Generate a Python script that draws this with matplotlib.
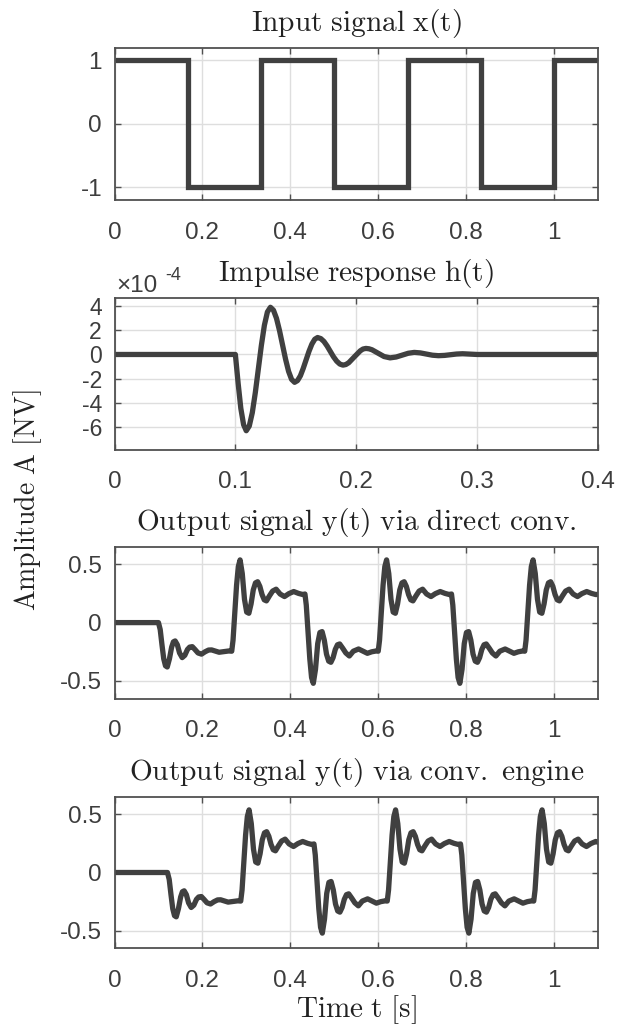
import matplotlib
matplotlib.use('Agg')
import matplotlib.pyplot as plt
from matplotlib.ticker import FuncFormatter

plt.rcParams['axes.unicode_minus'] = False
plt.rcParams['mathtext.fontset'] = 'cm'
plt.rcParams['font.family'] = ['Liberation Sans', 'DejaVu Sans']

# ---------------- data ----------------
# Input square wave x(t): level on each interval between edges
x_edges = [0.0, 0.1667, 0.3333, 0.5, 0.6667, 0.8333, 1.0, 1.1]
x_levels = [1, -1, 1, -1, 1, -1, 1]

# Impulse response h(t), values in units of 1e-4
h_t = [0, 0.1, 0.1023, 0.1045, 0.1068, 0.109, 0.1115, 0.114, 0.1165, 0.119,
       0.1215, 0.124, 0.1265, 0.129, 0.1315, 0.134, 0.1365, 0.139, 0.1415, 0.144,
       0.1465, 0.149, 0.1514, 0.1538, 0.1561, 0.1585, 0.1609, 0.1633, 0.1657, 0.168,
       0.1707, 0.1733, 0.1759, 0.1785, 0.1811, 0.1838, 0.1864, 0.189, 0.1914, 0.1938,
       0.1985, 0.2033, 0.2056, 0.208, 0.2105, 0.213, 0.218, 0.223, 0.228, 0.233,
       0.238, 0.243, 0.248, 0.253, 0.258, 0.263, 0.268, 0.273, 0.278, 0.283,
       0.288, 0.294, 0.3, 0.4]
h_v = [0, 0, -2.4, -4.45, -5.8, -6.3, -5.91, -4.81, -3.15, -1.2,
       0.75, 2.41, 3.51, 3.9, 3.66, 2.99, 1.98, 0.8, -0.38, -1.39,
       -2.06, -2.3, -2.16, -1.76, -1.16, -0.45, 0.26, 0.86, 1.26, 1.4,
       1.31, 1.07, 0.70, 0.26, -0.18, -0.55, -0.79, -0.88, -0.83, -0.68,
       -0.19, 0.30, 0.45, 0.5, 0.47, 0.39, 0.11, -0.17, -0.28, -0.21,
       -0.055, 0.10, 0.17, 0.13, 0.035, -0.06, -0.1, -0.077, -0.02, 0.037,
       0.06, 0.03, 0, 0]

# Output via direct convolution y(t)
yd_t = [0.0,
        0.1, 0.104, 0.108, 0.112, 0.116, 0.12, 0.125, 0.13, 0.134, 0.138, 0.143, 0.148, 0.154,
        0.16, 0.166, 0.171, 0.177, 0.183, 0.19, 0.198, 0.206, 0.214, 0.221, 0.23, 0.238, 0.25, 0.26,
        0.2667, 0.2697, 0.2737, 0.2777, 0.2817, 0.2857, 0.2907, 0.2957, 0.3007, 0.3057, 0.3107,
        0.3157, 0.3207, 0.3257, 0.3307, 0.3357, 0.3407, 0.3457, 0.3527, 0.3597, 0.3677, 0.3767,
        0.3867, 0.3967, 0.4077, 0.4187, 0.4287,
        0.4333, 0.4363, 0.4403, 0.4443, 0.4483, 0.4523, 0.4573, 0.4623, 0.4673, 0.4723, 0.4773,
        0.4823, 0.4873, 0.4923, 0.4973, 0.5023, 0.5073, 0.5123, 0.5193, 0.5263, 0.5343, 0.5433,
        0.5553, 0.5653, 0.5753, 0.5853, 0.5953,
        0.6, 0.603, 0.607, 0.611, 0.615, 0.619, 0.624, 0.629, 0.634, 0.639, 0.644, 0.649, 0.654,
        0.659, 0.664, 0.669, 0.674, 0.679, 0.686, 0.693, 0.701, 0.71, 0.72, 0.73, 0.741, 0.752, 0.762,
        0.7667, 0.7697, 0.7737, 0.7777, 0.7817, 0.7857, 0.7907, 0.7957, 0.8007, 0.8057, 0.8107,
        0.8157, 0.8207, 0.8257, 0.8307, 0.8357, 0.8407, 0.8457, 0.8527, 0.8597, 0.8677, 0.8767,
        0.8887, 0.8987, 0.9087, 0.9187, 0.9287,
        0.9333, 0.9363, 0.9403, 0.9443, 0.9483, 0.9523, 0.9573, 0.9623, 0.9673, 0.9723, 0.9773,
        0.9823, 0.9873, 0.9923, 0.9973, 1.0023, 1.0073, 1.0123, 1.0193, 1.0263, 1.0343, 1.0433,
        1.0533, 1.0633, 1.0743, 1.0853, 1.0953, 1.1]
yd_v = [0.0,
        0, -0.06, -0.19, -0.31, -0.37, -0.38, -0.31, -0.21, -0.165, -0.157, -0.19, -0.26, -0.30,
        -0.28, -0.23, -0.21, -0.206, -0.23, -0.26, -0.27, -0.25, -0.235, -0.234, -0.245, -0.254, -0.248, -0.243,
        -0.245, -0.15, 0.08, 0.32, 0.48, 0.537, 0.42, 0.20, 0.09, 0.08, 0.16,
        0.28, 0.34, 0.35, 0.31, 0.24, 0.195, 0.186, 0.23, 0.27, 0.286, 0.245,
        0.223, 0.248, 0.266, 0.25, 0.24,
        0.245, 0.15, -0.08, -0.31, -0.47, -0.52, -0.40, -0.18, -0.085, -0.077, -0.15,
        -0.27, -0.33, -0.34, -0.30, -0.23, -0.19, -0.183, -0.22, -0.26, -0.286, -0.245,
        -0.226, -0.245, -0.263, -0.25, -0.243,
        -0.245, -0.15, 0.08, 0.32, 0.48, 0.537, 0.42, 0.20, 0.09, 0.08, 0.16, 0.28, 0.34,
        0.35, 0.31, 0.24, 0.195, 0.186, 0.23, 0.27, 0.286, 0.245, 0.223, 0.248, 0.266, 0.25, 0.24,
        0.245, 0.15, -0.08, -0.31, -0.47, -0.52, -0.40, -0.18, -0.085, -0.077, -0.15,
        -0.27, -0.33, -0.34, -0.30, -0.23, -0.19, -0.183, -0.22, -0.26, -0.286, -0.245,
        -0.226, -0.245, -0.263, -0.25, -0.243,
        -0.245, -0.15, 0.08, 0.32, 0.48, 0.537, 0.42, 0.20, 0.09, 0.08, 0.16,
        0.28, 0.34, 0.35, 0.31, 0.24, 0.195, 0.186, 0.23, 0.27, 0.286, 0.245,
        0.223, 0.248, 0.266, 0.25, 0.24, 0.242]

# Output via convolution engine y(t)
ye_t = [0.0,
        0.1205, 0.1245, 0.1285, 0.1325, 0.1365, 0.1405, 0.1455, 0.1505, 0.1545, 0.1585, 0.1635,
        0.1685, 0.1745, 0.1805, 0.1865, 0.1915, 0.1975, 0.2035, 0.2105, 0.2185, 0.2265, 0.2345,
        0.2415, 0.2505, 0.2585, 0.2705, 0.2805,
        0.2872, 0.2902, 0.2942, 0.2982, 0.3022, 0.3062, 0.3112, 0.3162, 0.3212, 0.3262, 0.3312,
        0.3362, 0.3412, 0.3462, 0.3512, 0.3562, 0.3612, 0.3662, 0.3732, 0.3802, 0.3882, 0.3972,
        0.4072, 0.4172, 0.4282, 0.4392, 0.4492,
        0.4538, 0.4568, 0.4608, 0.4648, 0.4688, 0.4728, 0.4778, 0.4828, 0.4878, 0.4928, 0.4978,
        0.5028, 0.5078, 0.5128, 0.5178, 0.5228, 0.5278, 0.5328, 0.5398, 0.5468, 0.5548, 0.5638,
        0.5758, 0.5858, 0.5958, 0.6058, 0.6158,
        0.6205, 0.6235, 0.6275, 0.6315, 0.6355, 0.6395, 0.6445, 0.6495, 0.6545, 0.6595, 0.6645,
        0.6695, 0.6745, 0.6795, 0.6845, 0.6895, 0.6945, 0.6995, 0.7065, 0.7135, 0.7215, 0.7305,
        0.7405, 0.7505, 0.7615, 0.7725, 0.7825,
        0.7872, 0.7902, 0.7942, 0.7982, 0.8022, 0.8062, 0.8112, 0.8162, 0.8212, 0.8262, 0.8312,
        0.8362, 0.8412, 0.8462, 0.8512, 0.8562, 0.8612, 0.8662, 0.8732, 0.8802, 0.8882, 0.8972,
        0.9092, 0.9192, 0.9292, 0.9392, 0.9492,
        0.9538, 0.9568, 0.9608, 0.9648, 0.9688, 0.9728, 0.9778, 0.9828, 0.9878, 0.9928, 0.9978,
        1.0028, 1.0078, 1.0128, 1.0178, 1.0228, 1.0278, 1.0328, 1.0398, 1.0468, 1.0548, 1.0638,
        1.0738, 1.0838, 1.0948, 1.1]
ye_v = [0.0,
        0, -0.06, -0.19, -0.31, -0.37, -0.38, -0.31, -0.21, -0.165, -0.157, -0.19,
        -0.26, -0.30, -0.28, -0.23, -0.21, -0.206, -0.23, -0.26, -0.27, -0.25, -0.235,
        -0.234, -0.245, -0.254, -0.248, -0.243,
        -0.245, -0.15, 0.08, 0.32, 0.48, 0.537, 0.42, 0.20, 0.09, 0.08, 0.16,
        0.28, 0.34, 0.35, 0.31, 0.24, 0.195, 0.186, 0.23, 0.27, 0.286, 0.245,
        0.223, 0.248, 0.266, 0.25, 0.24,
        0.245, 0.15, -0.08, -0.31, -0.47, -0.52, -0.40, -0.18, -0.085, -0.077, -0.15,
        -0.27, -0.33, -0.34, -0.30, -0.23, -0.19, -0.183, -0.22, -0.26, -0.286, -0.245,
        -0.226, -0.245, -0.263, -0.25, -0.243,
        -0.245, -0.15, 0.08, 0.32, 0.48, 0.537, 0.42, 0.20, 0.09, 0.08, 0.16,
        0.28, 0.34, 0.35, 0.31, 0.24, 0.195, 0.186, 0.23, 0.27, 0.286, 0.245,
        0.223, 0.248, 0.266, 0.25, 0.24,
        0.245, 0.15, -0.08, -0.31, -0.47, -0.52, -0.40, -0.18, -0.085, -0.077, -0.15,
        -0.27, -0.33, -0.34, -0.30, -0.23, -0.19, -0.183, -0.22, -0.26, -0.286, -0.245,
        -0.226, -0.245, -0.263, -0.25, -0.243,
        -0.245, -0.15, 0.08, 0.32, 0.48, 0.537, 0.42, 0.20, 0.09, 0.08, 0.16,
        0.28, 0.34, 0.35, 0.31, 0.24, 0.195, 0.186, 0.23, 0.27, 0.286, 0.245,
        0.223, 0.248, 0.266, 0.26]

titles = ['Input signal x(t)', 'Impulse response h(t)',
          'Output signal y(t) via direct conv.', 'Output signal y(t) via conv. engine']
xticks_long = [0, 0.2, 0.4, 0.6, 0.8, 1.0]
xticks_h = [0, 0.1, 0.2, 0.3, 0.4]
yticks_x = [-1, 0, 1]
yticks_h = [-6, -4, -2, 0, 2, 4]
yticks_y = [-0.5, 0, 0.5]

# ---------------- figure ----------------
LINE = '#404040'
TICKTXT = '#3d3d3d'
SPINE = '#505050'
GRID = '#dedede'
TITLE = '#222222'

W, H = 625, 1027
fig = plt.figure(figsize=(W / 100, H / 100), dpi=100)


def axpix(l, t, r, b):
    return fig.add_axes([l / W, 1 - b / H, (r - l) / W, (b - t) / H])


def mrm(s):
    return r'$\mathrm{' + s.replace(' ', r'\ ') + '}$'


fmt = FuncFormatter(lambda v, p: '%g' % round(v, 6))

tops = [47.7, 297.7, 546.7, 796.7]
bots = [200.0, 449.5, 698.5, 948.3]
L, R = 114.5, 598.0
axes = [axpix(L, t, R, b) for t, b in zip(tops, bots)]


def style(ax, ylsize=17.5):
    ax.grid(True, color=GRID, lw=1.0)
    ax.set_axisbelow(True)
    for s in ax.spines.values():
        s.set_color(SPINE)
        s.set_linewidth(1.3)
    ax.tick_params(direction='in', length=4, width=1.0, colors=SPINE,
                   labelcolor=TICKTXT, top=True, right=True)
    ax.tick_params(axis='x', pad=15.5, labelsize=17.5)
    ax.tick_params(axis='y', pad=9, labelsize=ylsize)
    ax.xaxis.set_major_formatter(fmt)
    ax.yaxis.set_major_formatter(fmt)


LW = 3.8
ax1, ax2, ax3, ax4 = axes
ax1.stairs(x_levels, x_edges, baseline=None, color=LINE, lw=LW)
ax1.set_xlim(0, 1.1)
ax1.set_ylim(-1.2, 1.2)
ax1.set_xticks(xticks_long)
ax1.set_yticks(yticks_x)
style(ax1)

ax2.plot(h_t, h_v, color=LINE, lw=LW, solid_joinstyle='round')
ax2.set_xlim(0, 0.4)
ax2.set_ylim(-7.85, 4.69)
ax2.set_xticks(xticks_h)
ax2.set_yticks(yticks_h)
style(ax2, ylsize=16.5)

for ax, tt, vv in ((ax3, yd_t, yd_v), (ax4, ye_t, ye_v)):
    ax.plot(tt, vv, color=LINE, lw=LW, solid_joinstyle='round')
    ax.set_xlim(0, 1.1)
    ax.set_ylim(-0.65, 0.65)
    ax.set_xticks(xticks_long)
    ax.set_yticks(yticks_y)
    style(ax)

for ax, top, title in zip(axes, tops, titles):
    fig.text((L + R) / 2 / W, 1 - (top - 16.5) / H, mrm(title), ha='center',
             va='baseline', fontsize=21.2, color=TITLE)

# exponent label for the impulse response
fig.text(116 / W, 1 - 292 / H, '\u00d710', fontsize=17.5, va='baseline', ha='left', color=TICKTXT)
fig.text(165 / W, 1 - 280.5 / H, '-4', fontsize=13, va='baseline', ha='left', color=TICKTXT)

fig.text(28 / W, 1 - 500 / H, mrm('Amplitude A [NV]'), rotation=90, ha='center',
         va='center', fontsize=20, color=TITLE)
fig.text((L + R) / 2 / W, 1 - 1016.7 / H, mrm('Time t [s]'), ha='center',
         va='baseline', fontsize=21, color=TITLE)

fig.savefig('out.png', dpi=100)
